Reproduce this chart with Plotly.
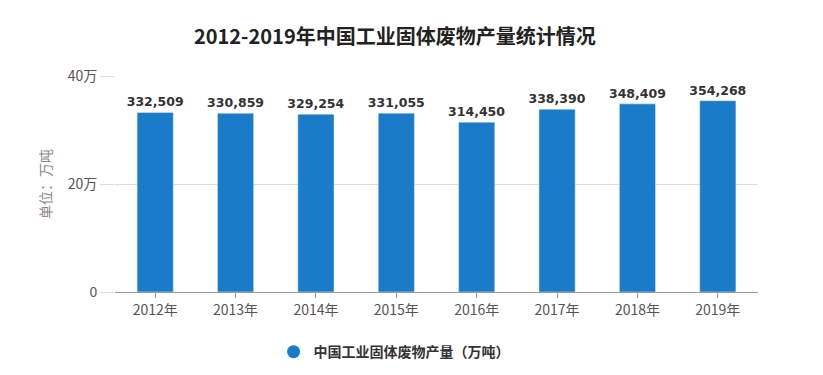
import plotly.graph_objects as go

years = ["2012年", "2013年", "2014年", "2015年", "2016年", "2017年", "2018年", "2019年"]
output = [332509, 330859, 329254, 331055, 314450, 338390, 348409, 354268]
tick_vals = [0, 200000, 400000]
tick_text = ["0", "20万", "40万"]
series_name = "中国工业固体废物产量（万吨）"

color = "#1a7bc8"
fig = go.Figure()
fig.add_trace(go.Bar(
    x=years, y=output, marker_color=color, showlegend=False,
    text=[f"{v:,}" for v in output], textposition="outside",
    textfont=dict(family="DejaVu Sans", size=12.5, color="#333333", weight="bold"),
    constraintext="none",
    cliponaxis=False, width=0.45,
))
fig.add_trace(go.Scatter(
    x=[None], y=[None], mode="markers", name=series_name,
    marker=dict(symbol="circle", size=13, color=color),
))
fig.update_layout(
    width=823, height=375,
    margin=dict(l=107, r=73, t=68, b=91),
    paper_bgcolor="white", plot_bgcolor="white",
    title=dict(text="<b>2012-2019年中国工业固体废物产量统计情况</b>", x=0.47, xanchor="center",
               y=0.923, yanchor="middle",
               font=dict(family="Noto Sans CJK SC", size=20, color="#222222")),
    font=dict(family="Noto Sans CJK SC", color="#555555", size=14),
    xaxis=dict(showline=True, linecolor="#999999", ticks="outside", ticklen=5,
               tickcolor="#999999", tickfont=dict(size=14, color="#555555")),
    yaxis=dict(range=[0, 400000], tickvals=tick_vals, ticktext=tick_text,
               showgrid=True, gridcolor="#dddddd", zeroline=False,
               ticks="outside", ticklen=14, tickcolor="#dddddd",
               tickfont=dict(size=14, color="#555555"),
               title=dict(text="单位：万吨", font=dict(size=14, color="#888888"), standoff=12)),
    legend=dict(orientation="h", x=0.434, xanchor="center", y=-0.278, yanchor="middle",
                font=dict(size=14, color="#333333", weight="bold")),
)
fig.write_html("out.html")
